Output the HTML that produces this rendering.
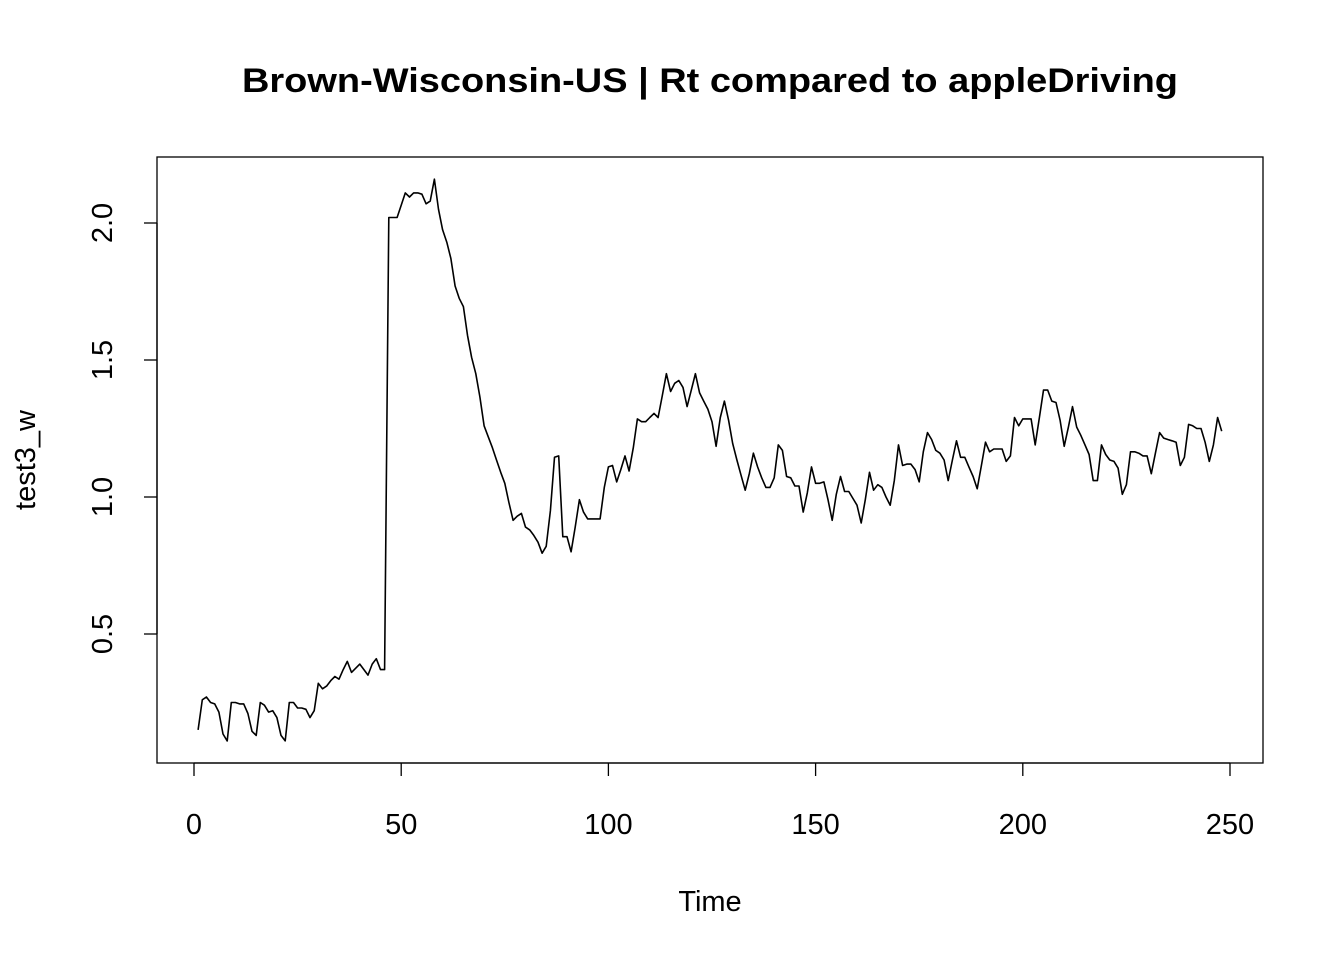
<!DOCTYPE html>
<html><head><meta charset="utf-8"><style>
body{margin:0;background:#fff}
svg text{font-family:"Liberation Sans",Arial,sans-serif;fill:#000}
</style></head><body>
<svg id="chart" width="1344" height="960" xmlns="http://www.w3.org/2000/svg">
<rect width="1344" height="960" fill="#fff"/>
<text x="710" y="92" text-anchor="middle" font-size="34" font-weight="bold" textLength="936" lengthAdjust="spacingAndGlyphs">Brown-Wisconsin-US | Rt compared to appleDriving</text>
<rect x="157" y="157" width="1106" height="606" fill="none" stroke="#000" stroke-width="1.3"/>
<g id="xaxis"></g>
<g id="yaxis"></g>
<text x="710" y="911" text-anchor="middle" font-size="29">Time</text>
<text transform="translate(35,460) rotate(-90)" text-anchor="middle" font-size="29">test3_w</text>
<polyline id="series" fill="none" stroke="#000" stroke-width="1.6" stroke-linejoin="round"/>
</svg>
<script>
const values = [0.15,0.26,0.27,0.25,0.245,0.215,0.135,0.11,0.25,0.25,0.245,0.245,0.21,0.145,0.13,0.25,0.24,0.215,0.22,0.195,0.13,0.11,0.25,0.25,0.23,0.23,0.225,0.195,0.22,0.32,0.30,0.31,0.33,0.345,0.335,0.37,0.40,0.36,0.375,0.39,0.37,0.35,0.39,0.41,0.37,0.37,
2.02,2.02,2.02,2.065,2.11,2.095,2.11,2.11,2.105,2.07,2.08,2.16,2.05,1.975,1.93,1.87,1.77,1.725,1.695,1.59,1.51,1.45,1.365,1.26,1.22,1.18,1.135,1.09,1.05,0.98,0.915,0.93,0.94,0.89,0.88,0.86,0.835,0.795,0.82,0.95,1.145,1.15,0.855,0.855,0.80,0.89,0.99,0.945,
0.92,0.92,0.92,0.92,1.035,1.11,1.115,1.055,1.10,1.15,1.095,1.18,1.285,1.275,1.275,1.29,1.305,1.29,1.37,1.45,1.385,1.415,1.425,1.40,1.33,1.39,1.45,1.38,1.35,1.32,1.275,1.185,1.29,1.35,1.28,1.195,1.135,1.08,1.025,1.085,1.16,1.11,1.07,1.035,1.035,1.07,1.19,1.17,1.075,1.07,1.04,1.04,0.945,1.015,1.11,1.05,1.05,1.055,0.99,0.915,1.01,1.075,1.02,1.02,0.995,0.97,
0.905,0.99,1.09,1.025,1.045,1.035,1.00,0.97,1.06,1.19,1.115,1.12,1.12,1.10,1.055,1.165,1.235,1.21,1.17,1.16,1.135,1.06,1.135,1.205,1.145,1.145,1.11,1.075,1.03,1.115,1.20,1.165,1.175,1.175,1.175,1.13,1.15,1.29,1.26,1.285,1.285,1.285,1.19,1.29,1.39,1.39,1.35,1.345,1.28,1.185,1.255,1.33,1.255,1.225,1.19,1.155,1.06,1.06,1.19,1.155,1.135,1.13,1.105,1.01,1.045,1.165,1.165,1.16,1.15,1.15,1.085,1.16,1.235,1.215,1.21,1.205,1.20,1.115,1.145,1.265,1.26,1.25,1.25,1.20,1.13,1.19,1.29,1.24];
const xTicks = [0,50,100,150,200,250];
const yTicks = [0.5,1.0,1.5,2.0];
const yTickLabels = ["0.5","1.0","1.5","2.0"];
const NS="http://www.w3.org/2000/svg";
function xs(t){return 194+(t)*(1230-194)/250;}
function ys(v){return 223+(2-v)*274;}
const pts=values.map((v,i)=>xs(i+1).toFixed(1)+","+ys(v).toFixed(1)).join(" ");
document.getElementById('series').setAttribute('points',pts);
const xg=document.getElementById('xaxis');
const ax=document.createElementNS(NS,'line');


ax.setAttribute('x1',xs(0));ax.setAttribute('x2',xs(250));ax.setAttribute('y1',763);ax.setAttribute('y2',763);ax.setAttribute('stroke','#000');ax.setAttribute('stroke-width','1.3');
xg.appendChild(ax);
xTicks.forEach(t=>{
 const l=document.createElementNS(NS,'line');
 
 
 l.setAttribute('x1',xs(t));l.setAttribute('x2',xs(t));l.setAttribute('y1',763);l.setAttribute('y2',776);l.setAttribute('stroke','#000');l.setAttribute('stroke-width','1.3');
 xg.appendChild(l);
 const tx=document.createElementNS(NS,'text');
 
 
 tx.setAttribute('x',xs(t));tx.setAttribute('y',834);tx.setAttribute('text-anchor','middle');tx.setAttribute('font-size','29');
 tx.textContent=String(t);xg.appendChild(tx);
});
const yg=document.getElementById('yaxis');
const ay=document.createElementNS(NS,'line');


ay.setAttribute('x1',157);ay.setAttribute('x2',157);ay.setAttribute('y1',ys(0.5));ay.setAttribute('y2',ys(2.0));ay.setAttribute('stroke','#000');ay.setAttribute('stroke-width','1.3');
yg.appendChild(ay);
yTicks.forEach((v,i)=>{
 const l=document.createElementNS(NS,'line');
 
 
 l.setAttribute('x1',144);l.setAttribute('x2',157);l.setAttribute('y1',ys(v));l.setAttribute('y2',ys(v));l.setAttribute('stroke','#000');l.setAttribute('stroke-width','1.3');
 yg.appendChild(l);
 const tx=document.createElementNS(NS,'text');
 
 
 tx.setAttribute('transform','translate(112,'+ys(v)+') rotate(-90)');tx.setAttribute('text-anchor','middle');tx.setAttribute('font-size','29');
 tx.textContent=yTickLabels[i];yg.appendChild(tx);
});
</script>
</body></html>
